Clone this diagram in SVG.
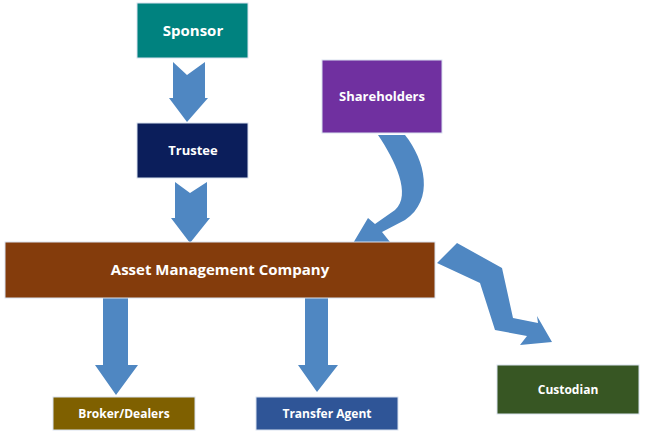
<svg xmlns="http://www.w3.org/2000/svg" width="645" height="441" viewBox="0 0 645 441">
<style>
.b{stroke:#d9e2ef;stroke-width:1}
.t{font-family:"Open Sans","Liberation Sans",sans-serif;font-weight:bold;fill:#fff;text-anchor:middle}
.a{fill:#4f87c2}
</style>
<rect width="645" height="441" fill="#fff"/>
<g id="connectors" class="a">
<polygon points="173,62 187,75 205,62 205,98 208,98 187,122 169,98 173,98"/>
<polygon points="175,182 190,193 207,182 207,218 210,218 190,243 171,218 175,218"/>
<path d="M378,135 L405,135 C425,160 435,200 405,220 L382,232 L390,242 L352,245 L368,218 L375,224 L395,210 C412,195 395,160 378,135 Z"/>
<polygon points="437,263 457,243 502,268 513,318 538,323 537,316 552,342 520,345 527,336 495,330 480,283"/>
<polygon points="103,298 128,298 128,365 138,365 116,395 95,365 103,365"/>
<polygon points="305,298 328,298 328,365 338,365 317,392 298,365 305,365"/>
</g>
<g id="sponsor"><rect class="b" x="137" y="3" width="111" height="55" fill="#00827f"/><text class="t" x="193" y="36" font-size="15">Sponsor</text></g>
<g id="trustee"><rect class="b" x="137" y="123" width="111" height="55" fill="#0b1e5b"/><text class="t" x="193" y="155" font-size="13">Trustee</text></g>
<g id="shareholders"><rect class="b" x="322" y="60" width="120" height="73" fill="#7030a0"/><text class="t" x="382" y="101" font-size="13">Shareholders</text></g>
<g id="amc"><rect class="b" x="5" y="242" width="430" height="56" fill="#843c0c"/><text class="t" x="220" y="275" font-size="15">Asset Management Company</text></g>
<g id="broker"><rect class="b" x="53" y="397" width="142" height="33" fill="#7f6000"/><text class="t" x="124" y="418" font-size="12">Broker/Dealers</text></g>
<g id="transfer"><rect class="b" x="256" y="397" width="142" height="33" fill="#2f5597"/><text class="t" x="327" y="418" font-size="12">Transfer Agent</text></g>
<g id="custodian"><rect class="b" x="497" y="365" width="142" height="49" fill="#375623"/><text class="t" x="568" y="394" font-size="12">Custodian</text></g>
</svg>
